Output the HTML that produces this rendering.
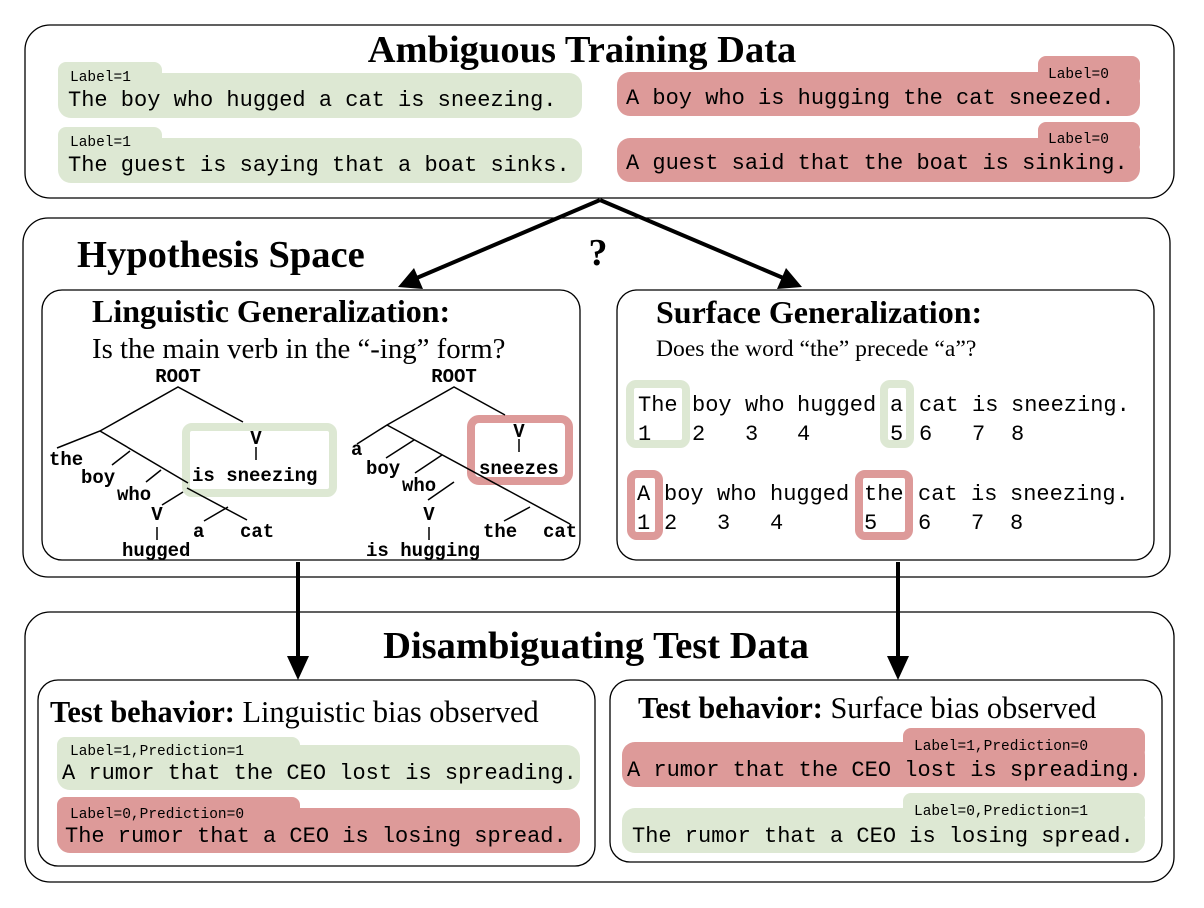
<!DOCTYPE html>
<html><head><meta charset="utf-8"><style>
html,body{margin:0;padding:0;background:#fff;}
svg{display:block}
.t{font-family:"Liberation Serif",serif;fill:#000}
.m{font-family:"Liberation Mono",monospace;fill:#000}
.tb{font-family:"Liberation Mono",monospace;font-weight:bold;font-size:19px;fill:#000}
</style></head><body>
<svg width="1204" height="908" viewBox="0 0 1204 908" xmlns="http://www.w3.org/2000/svg">
<g fill="none" stroke="#000" stroke-width="1.3">
<rect x="25" y="25" width="1149" height="173" rx="25"/>
<rect x="23" y="218" width="1147" height="359" rx="25"/>
<rect x="42" y="290" width="538" height="270" rx="20"/>
<rect x="617" y="290" width="537" height="270" rx="20"/>
<rect x="25" y="612" width="1149" height="270" rx="25"/>
<rect x="38" y="680" width="557" height="186" rx="20"/>
<rect x="610" y="680" width="552" height="182" rx="20"/>
</g>
<g stroke="#000" stroke-width="4" fill="none">
<line x1="600" y1="200" x2="412" y2="280"/>
<line x1="600" y1="200" x2="788" y2="280"/>
<line x1="298" y1="562" x2="298" y2="660"/>
<line x1="898" y1="562" x2="898" y2="660"/>
</g>
<g fill="#000">
<polygon points="398,287 414,268 423,289"/>
<polygon points="802,287 786,268 777,289"/>
<polygon points="298,680 287,656 309,656"/>
<polygon points="898,680 887,656 909,656"/>
</g>
<text x="582" y="62" text-anchor="middle" class="t" font-size="38.5" font-weight="bold">Ambiguous Training Data</text>
<text x="77" y="267" class="t" font-size="38.5" font-weight="bold">Hypothesis Space</text>
<text x="598" y="265" text-anchor="middle" class="t" font-size="38" font-weight="bold">?</text>
<text x="596" y="658" text-anchor="middle" class="t" font-size="38.5" font-weight="bold">Disambiguating Test Data</text>
<text x="92" y="322" class="t" font-size="32" font-weight="bold">Linguistic Generalization:</text>
<text x="92" y="358" class="t" font-size="28.8">Is the main verb in the “-ing” form?</text>
<text x="656" y="323" class="t" font-size="32" font-weight="bold">Surface Generalization:</text>
<text x="656" y="356" class="t" font-size="23.6">Does the word “the” precede “a”?</text>
<text x="50" y="722" class="t" font-size="30.3"><tspan font-weight="bold">Test behavior:</tspan> Linguistic bias observed</text>
<text x="638" y="718" class="t" font-size="30.3"><tspan font-weight="bold">Test behavior:</tspan> Surface bias observed</text>
<g fill="#dde8d3">
<rect x="58" y="62" width="104" height="30" rx="8"/><rect x="58" y="73" width="524" height="45" rx="13"/>
<rect x="58" y="127" width="104" height="30" rx="8"/><rect x="58" y="138" width="524" height="45" rx="13"/>
</g>
<g fill="#dd9a99">
<rect x="1038" y="56" width="102" height="30" rx="8"/><rect x="617" y="72" width="523" height="44" rx="13"/>
<rect x="1038" y="122" width="102" height="30" rx="8"/><rect x="617" y="138" width="523" height="44" rx="13"/>
</g>
<g class="m">
<text x="70" y="81" font-size="14.5">Label=1</text>
<text x="68" y="106" font-size="22">The boy who hugged a cat is sneezing.</text>
<text x="70" y="146" font-size="14.5">Label=1</text>
<text x="68" y="171" font-size="22">The guest is saying that a boat sinks.</text>
<text x="1048" y="78" font-size="14.5">Label=0</text>
<text x="626" y="104" font-size="22">A boy who is hugging the cat sneezed.</text>
<text x="1048" y="143" font-size="14.5">Label=0</text>
<text x="626" y="169" font-size="22">A guest said that the boat is sinking.</text>
</g>
<rect x="186" y="427" width="147" height="66" rx="6" fill="none" stroke="#dde8d3" stroke-width="8"/>
<rect x="471" y="419" width="98" height="62" rx="8" fill="none" stroke="#dd9a99" stroke-width="8"/>
<g stroke="#000" stroke-width="1.5" fill="none">
<polyline points="243,422 178,387 100,431 57,448"/>
<line x1="100" y1="431" x2="188" y2="483"/>
<line x1="130" y1="451" x2="112" y2="465"/>
<line x1="161" y1="470" x2="146" y2="482"/>
<line x1="183" y1="492" x2="162" y2="505"/>
<line x1="187" y1="488" x2="247" y2="520"/>
<line x1="228" y1="507" x2="204" y2="521"/>
<line x1="157" y1="527" x2="157" y2="540"/>
<line x1="256" y1="447" x2="256" y2="460"/>
<polyline points="505,415 454,387 387,425 357,444"/>
<line x1="387" y1="425" x2="570" y2="524"/>
<line x1="414" y1="440" x2="386" y2="458"/>
<line x1="442" y1="455" x2="415" y2="473"/>
<line x1="454" y1="482" x2="428" y2="500"/>
<line x1="530" y1="507" x2="504" y2="521"/>
<line x1="429" y1="527" x2="429" y2="540"/>
<line x1="519" y1="439" x2="519" y2="452"/>
</g>
<g class="tb">
<text x="178" y="382" text-anchor="middle">ROOT</text>
<text x="49" y="465">the</text><text x="81" y="483">boy</text><text x="117" y="500">who</text>
<text x="157" y="520" text-anchor="middle">V</text><text x="122" y="556">hugged</text>
<text x="193" y="537">a</text><text x="240" y="537">cat</text>
<text x="256" y="444" text-anchor="middle">V</text><text x="192" y="481">is sneezing</text>
<text x="454" y="382" text-anchor="middle">ROOT</text>
<text x="351" y="455">a</text><text x="366" y="474">boy</text><text x="402" y="491">who</text>
<text x="429" y="520" text-anchor="middle">V</text><text x="366" y="556">is hugging</text>
<text x="483" y="537">the</text><text x="543" y="537">cat</text>
<text x="519" y="437" text-anchor="middle">V</text><text x="479" y="474">sneezes</text>
</g>
<g fill="none" stroke-width="8">
<rect x="630" y="384" width="56" height="60" rx="6" stroke="#dde8d3"/>
<rect x="884" y="384" width="26" height="60" rx="6" stroke="#dde8d3"/>
<rect x="631" y="474" width="28" height="62" rx="6" stroke="#dd9a99"/>
<rect x="859" y="474" width="50" height="62" rx="6" stroke="#dd9a99"/>
</g>
<g class="m" font-size="22">
<text y="411"><tspan x="638">The</tspan><tspan x="692">boy</tspan><tspan x="745">who</tspan><tspan x="797">hugged</tspan><tspan x="890">a</tspan><tspan x="919">cat</tspan><tspan x="972">is</tspan><tspan x="1011">sneezing.</tspan></text>
<text y="440"><tspan x="638">1</tspan><tspan x="692">2</tspan><tspan x="745">3</tspan><tspan x="797">4</tspan><tspan x="890">5</tspan><tspan x="919">6</tspan><tspan x="972">7</tspan><tspan x="1011">8</tspan></text>
<text y="500"><tspan x="637">A</tspan><tspan x="664">boy</tspan><tspan x="717">who</tspan><tspan x="770">hugged</tspan><tspan x="864">the</tspan><tspan x="918">cat</tspan><tspan x="971">is</tspan><tspan x="1010">sneezing.</tspan></text>
<text y="529"><tspan x="637">1</tspan><tspan x="664">2</tspan><tspan x="717">3</tspan><tspan x="770">4</tspan><tspan x="864">5</tspan><tspan x="918">6</tspan><tspan x="971">7</tspan><tspan x="1010">8</tspan></text>
</g>
<rect x="57" y="737" width="243" height="30" rx="8" fill="#dde8d3"/><rect x="57" y="745" width="523" height="45" rx="13" fill="#dde8d3"/>
<rect x="57" y="797" width="243" height="30" rx="8" fill="#dd9a99"/><rect x="57" y="808" width="523" height="45" rx="13" fill="#dd9a99"/>
<rect x="903" y="728" width="242" height="30" rx="8" fill="#dd9a99"/><rect x="622" y="742" width="523" height="45" rx="13" fill="#dd9a99"/>
<rect x="903" y="793" width="242" height="30" rx="8" fill="#dde8d3"/><rect x="622" y="808" width="523" height="45" rx="13" fill="#dde8d3"/>
<g class="m">
<text x="70" y="755" font-size="14.5">Label=1,Prediction=1</text>
<text x="62" y="779" font-size="22">A rumor that the CEO lost is spreading.</text>
<text x="70" y="818" font-size="14.5">Label=0,Prediction=0</text>
<text x="65" y="842" font-size="22">The rumor that a CEO is losing spread.</text>
<text x="914" y="750" font-size="14.5">Label=1,Prediction=0</text>
<text x="627" y="776" font-size="22">A rumor that the CEO lost is spreading.</text>
<text x="914" y="815" font-size="14.5">Label=0,Prediction=1</text>
<text x="632" y="842" font-size="22">The rumor that a CEO is losing spread.</text>
</g>
</svg>
</body></html>
